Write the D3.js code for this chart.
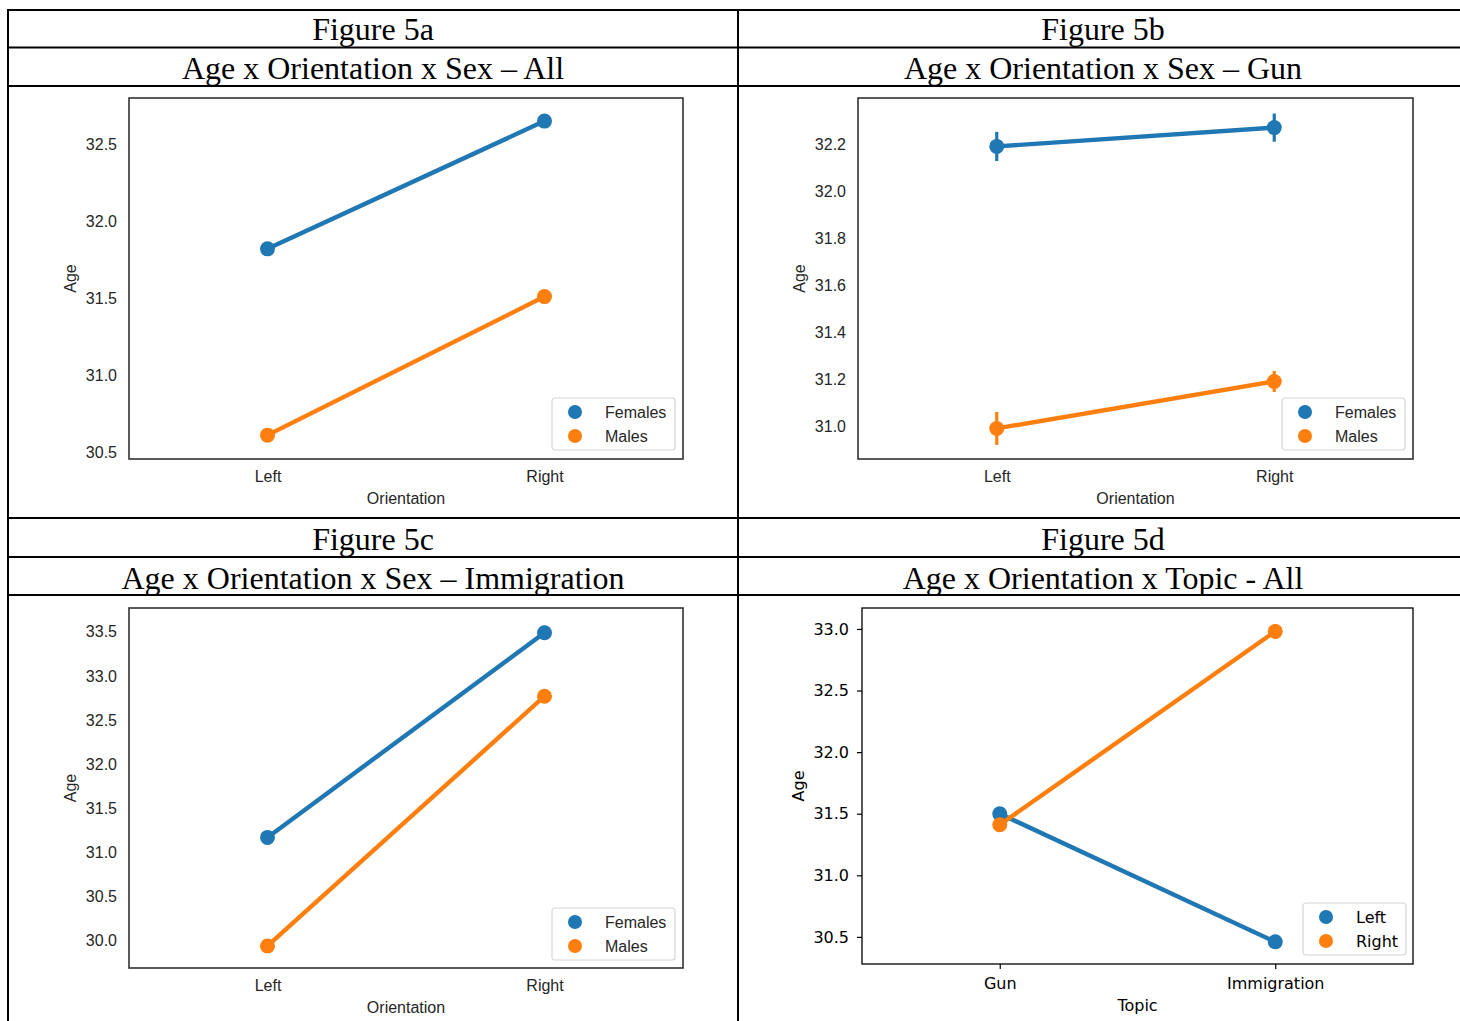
<!DOCTYPE html>
<meta charset="utf-8">
<html>
<head>
<style>
  body { margin: 0; background: #fff; }
  svg { display: block; }
</style>
</head>
<body>
<div id="figure"></div>
<script src="https://d3js.org/d3.v7.min.js"></script>
<script>
// ---- data ----
const orientations = ['Left', 'Right'];
const topics = ['Gun', 'Immigration'];
const sexSeries = ['Females', 'Males'];
const orientSeries = ['Left', 'Right'];

const figTitles = ['Figure 5a', 'Figure 5b', 'Figure 5c', 'Figure 5d'];
const subTitles = ['Age x Orientation x Sex \u2013 All', 'Age x Orientation x Sex \u2013 Gun',
                   'Age x Orientation x Sex \u2013 Immigration', 'Age x Orientation x Topic - All'];

// 5a
const allFemales = [31.82, 32.65];
const allMales = [30.61, 31.51];
const allFemalesCI = [0.03, 0.04];
const allMalesCI = [0.03, 0.02];
const ticksA = [30.5, 31.0, 31.5, 32.0, 32.5];
const limA = [30.455, 32.80];

// 5b
const gunFemales = [32.19, 32.27];
const gunMales = [30.99, 31.19];
const gunFemalesCI = [0.062, 0.06];
const gunMalesCI = [0.07, 0.045];
const ticksB = [31.0, 31.2, 31.4, 31.6, 31.8, 32.0, 32.2];
const limB = [30.86, 32.396];

// 5c
const immFemales = [31.17, 33.49];
const immMales = [29.94, 32.77];
const immFemalesCI = [0.05, 0.08];
const immMalesCI = [0.07, 0.07];
const ticksC = [30.0, 30.5, 31.0, 31.5, 32.0, 32.5, 33.0, 33.5];
const limC = [29.69, 33.77];

// 5d
const topicLeft = [31.50, 30.46];
const topicRight = [31.41, 32.98];
const topicLeftCI = [0.04, 0.05];
const topicRightCI = [0.05, 0.06];
const ticksD = [30.5, 31.0, 31.5, 32.0, 32.5, 33.0];
const limD = [30.28, 33.17];

const blue = '#1f77b4';
const orange = '#ff7f0e';

const W = 1460, H = 1021;
const svg = d3.select('#figure').append('svg')
    .attr('width', W).attr('height', H);

// ---- table ----
const serif = "'Liberation Serif', 'Times New Roman', serif";
const tableX = [8, 738];
const rowY = [10, 47.5, 86, 518, 557, 595];
const table = svg.append('g').attr('stroke', '#000').attr('stroke-width', 2);
rowY.forEach(y => {
    table.append('line').attr('x1', 7).attr('x2', W).attr('y1', y).attr('y2', y);
});
tableX.forEach(x => {
    table.append('line').attr('x1', x).attr('x2', x).attr('y1', 9).attr('y2', H);
});
const colCenters = [373, 1103];
figTitles.forEach((t, i) => {
    const cx = colCenters[i % 2];
    const row = Math.floor(i / 2);
    svg.append('text').attr('x', cx).attr('y', row ? 550 : 40)
        .attr('text-anchor', 'middle').style('font-family', serif).style('font-size', '32px')
        .text(t);
    svg.append('text').attr('x', cx).attr('y', row ? 589 : 79)
        .attr('text-anchor', 'middle').style('font-family', serif).style('font-size', '32px')
        .text(subTitles[i]);
});

// ---- point plots ----
function drawPanel(p) {
    const g = svg.append('g');
    const x = d3.scalePoint().domain(p.cats).range([p.left, p.left + p.width]).padding(0.5);
    const y = d3.scaleLinear().domain(p.lim).range([p.top + p.height, p.top]);

    const font = p.mpl ? "'DejaVu Sans', sans-serif" : "'Liberation Sans', Arial, sans-serif";
    const fs = 16;
    const ink = p.mpl ? '#000' : '#262626';

    // white background
    g.append('rect').attr('x', p.left).attr('y', p.top)
        .attr('width', p.width).attr('height', p.height).attr('fill', '#fff');

    const yAxis = g.append('g').attr('transform', `translate(${p.left},0)`)
        .call(d3.axisLeft(y).tickValues(p.ticks).tickFormat(d3.format('.1f'))
            .tickSize(p.mpl ? 5 : 0).tickPadding(p.mpl ? 8 : 12));
    const xAxis = g.append('g').attr('transform', `translate(0,${p.top + p.height})`)
        .call(d3.axisBottom(x).tickSize(p.mpl ? 5 : 0).tickPadding(p.mpl ? 9 : 12));
    [yAxis, xAxis].forEach(a => {
        a.select('.domain').remove();
        a.selectAll('text').style('font-family', font).style('font-size', fs + 'px').attr('fill', ink);
        a.selectAll('line').attr('stroke', ink).attr('stroke-width', 1.2);
    });

    // axis titles
    g.append('text').attr('transform', `translate(${p.left - (p.mpl ? 58 : 53)},${p.top + p.height / 2}) rotate(-90)`)
        .attr('text-anchor', 'middle').style('font-family', font).style('font-size', fs + 'px')
        .attr('fill', ink).text('Age');
    g.append('text').attr('x', p.left + p.width / 2).attr('y', p.top + p.height + (p.mpl ? 47 : 45))
        .attr('text-anchor', 'middle').style('font-family', font).style('font-size', fs + 'px')
        .attr('fill', ink).text(p.xlabel);

    // series
    const line = d3.line().x((d, i) => x(p.cats[i])).y(d => y(d));
    p.series.forEach(s => {
        g.append('path').datum(s.values).attr('d', line)
            .attr('fill', 'none').attr('stroke', s.color).attr('stroke-width', 4.4);
        g.selectAll(null).data(s.values).enter().append('line')
            .attr('x1', (d, i) => x(p.cats[i])).attr('x2', (d, i) => x(p.cats[i]))
            .attr('y1', (d, i) => y(d - s.ci[i])).attr('y2', (d, i) => y(d + s.ci[i]))
            .attr('stroke', s.color).attr('stroke-width', 3.2);
        g.selectAll(null).data(s.values).enter().append('circle')
            .attr('cx', (d, i) => x(p.cats[i])).attr('cy', d => y(d))
            .attr('r', 7.5).attr('fill', s.color);
    });

    // frame
    g.append('rect').attr('x', p.left).attr('y', p.top)
        .attr('width', p.width).attr('height', p.height)
        .attr('fill', 'none').attr('stroke', p.mpl ? '#000' : '#333').attr('stroke-width', p.mpl ? 1.3 : 1.6);

    // legend
    const lg = g.append('g').attr('transform', `translate(${p.legend[0]},${p.legend[1]})`);
    lg.append('rect').attr('width', p.legend[2]).attr('height', 52).attr('rx', 3)
        .attr('fill', '#fff').attr('stroke', '#d6d6d6').attr('stroke-width', 1.2);
    p.series.forEach((s, i) => {
        lg.append('circle').attr('cx', 23).attr('cy', 14 + i * 24).attr('r', 7).attr('fill', s.color);
        lg.append('text').attr('x', 53).attr('y', 14 + i * 24).attr('dy', '0.35em')
            .style('font-family', font).style('font-size', fs + 'px').attr('fill', ink).text(s.name);
    });
}

drawPanel({
    left: 129, top: 98, width: 554, height: 361, cats: orientations, lim: limA, ticks: ticksA,
    xlabel: 'Orientation', legend: [552, 398, 123],
    series: [{name: sexSeries[0], values: allFemales, ci: allFemalesCI, color: blue},
             {name: sexSeries[1], values: allMales, ci: allMalesCI, color: orange}]
});
drawPanel({
    left: 858, top: 98, width: 555, height: 361, cats: orientations, lim: limB, ticks: ticksB,
    xlabel: 'Orientation', legend: [1282, 398, 123],
    series: [{name: sexSeries[0], values: gunFemales, ci: gunFemalesCI, color: blue},
             {name: sexSeries[1], values: gunMales, ci: gunMalesCI, color: orange}]
});
drawPanel({
    left: 129, top: 608, width: 554, height: 360, cats: orientations, lim: limC, ticks: ticksC,
    xlabel: 'Orientation', legend: [552, 908, 123],
    series: [{name: sexSeries[0], values: immFemales, ci: immFemalesCI, color: blue},
             {name: sexSeries[1], values: immMales, ci: immMalesCI, color: orange}]
});
drawPanel({
    left: 862, top: 608, width: 551, height: 356, cats: topics, lim: limD, ticks: ticksD,
    xlabel: 'Topic', legend: [1303, 903, 103], mpl: true,
    series: [{name: orientSeries[0], values: topicLeft, ci: topicLeftCI, color: blue},
             {name: orientSeries[1], values: topicRight, ci: topicRightCI, color: orange}]
});
</script>
</body>
</html>
